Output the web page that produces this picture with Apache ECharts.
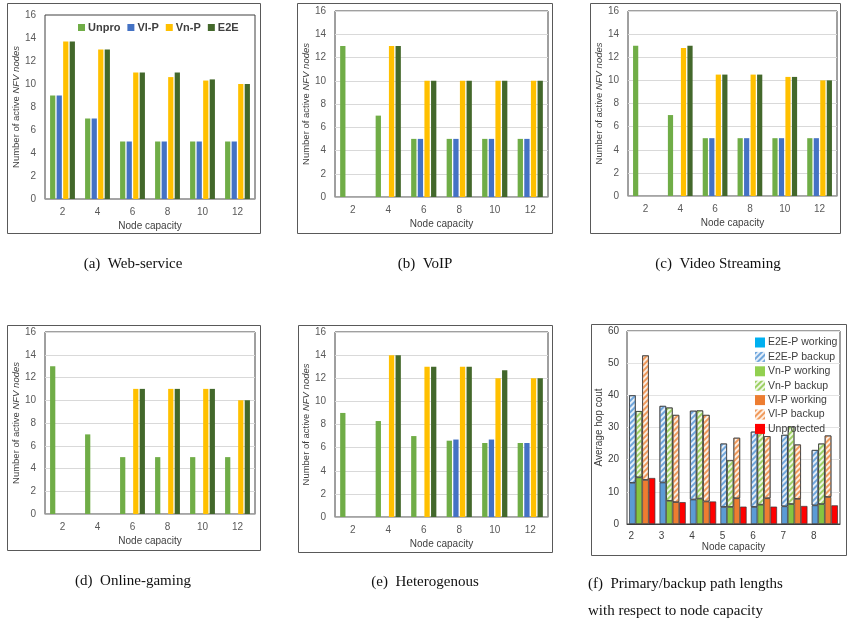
<!DOCTYPE html>
<html><head><meta charset="utf-8">
<script src="https://cdn.jsdelivr.net/npm/echarts/dist/echarts.min.js"></script>
<style>html,body{margin:0;padding:0;background:#fff}#c{width:850px;height:623px}</style>
</head><body><div id="c"></div><script>
// ---------- data ----------
const categories = ['2', '4', '6', '8', '10', '12'];
const seriesNames = ['Unpro', 'Vl-P', 'Vn-P', 'E2E'];

// (a) Web-service
const webUnpro = [9, 7, 5, 5, 5, 5];
const webVlP   = [9, 7, 5, 5, 5, 5];
const webVnP   = [13.7, 13, 11, 10.6, 10.3, 10];
const webE2E   = [13.7, 13, 11, 11, 10.4, 10];
// (b) VoIP
const voipUnpro = [13, 7, 5, 5, 5, 5];
const voipVlP   = [0, 0, 5, 5, 5, 5];
const voipVnP   = [0, 13, 10, 10, 10, 10];
const voipE2E   = [0, 13, 10, 10, 10, 10];
// (c) Video Streaming
const videoUnpro = [13, 7, 5, 5, 5, 5];
const videoVlP   = [0, 0, 5, 5, 5, 5];
const videoVnP   = [0, 12.8, 10.5, 10.5, 10.3, 10];
const videoE2E   = [0, 13, 10.5, 10.5, 10.3, 10];
// (d) Online-gaming
const gameUnpro = [13, 7, 5, 5, 5, 5];
const gameVlP   = [0, 0, 0, 0, 0, 0];
const gameVnP   = [0, 0, 11, 11, 11, 10];
const gameE2E   = [0, 0, 11, 11, 11, 10];
// (e) Heterogenous
const hetUnpro = [9, 8.3, 7, 6.6, 6.4, 6.4];
const hetVlP   = [0, 0, 0, 6.7, 6.7, 6.4];
const hetVnP   = [0, 14, 13, 13, 12, 12];
const hetE2E   = [0, 14, 13, 13, 12.7, 12];

// (f) Primary/backup path lengths
const capacities = ['2', '3', '4', '5', '6', '7', '8'];
const e2eWorking = [12.8, 12.9, 7.6, 5.3, 5.3, 5.5, 5.8];
const e2eBackup  = [27.2, 23.8, 27.6, 19.7, 23.4, 22.2, 17.2];
const vnWorking  = [14.5, 7.2, 7.9, 5.3, 6.0, 6.2, 6.2];
const vnBackup   = [20.6, 29.0, 27.4, 14.5, 23.1, 24.1, 18.8];
const vlWorking  = [13.7, 6.8, 7.0, 8.0, 8.0, 7.8, 8.4];
const vlBackup   = [38.7, 27.1, 26.9, 18.8, 19.3, 16.9, 19.1];
const unprotected = [14.3, 6.8, 7.0, 5.4, 5.4, 5.6, 5.8];

const captions = ['(a)  Web-service', '(b)  VoIP', '(c)  Video Streaming', '(d)  Online-gaming', '(e)  Heterogenous',
                  '(f)  Primary/backup path lengths\nwith respect to node capacity'];

// ---------- styling / layout ----------
const barColors = ['#70AD47', '#4472C4', '#FFC000', '#43682B'];
const FONT = 'Liberation Sans';
const tickColor = '#595959';

const panels = [
  {grid: {left: 45, top: 15, width: 210, height: 184}, data: [webUnpro, webVlP, webVnP, webE2E], split: false},
  {grid: {left: 335, top: 11, width: 213, height: 186}, data: [voipUnpro, voipVlP, voipVnP, voipE2E], split: true},
  {grid: {left: 628, top: 11, width: 209, height: 185}, data: [videoUnpro, videoVlP, videoVnP, videoE2E], split: true},
  {grid: {left: 45, top: 332, width: 210, height: 182}, data: [gameUnpro, gameVlP, gameVnP, gameE2E], split: true},
  {grid: {left: 335, top: 332, width: 213, height: 185}, data: [hetUnpro, hetVlP, hetVnP, hetE2E], split: true}
];

const grids = [], xAxes = [], yAxes = [], series = [];
panels.forEach((p, i) => {
  grids.push(Object.assign({show: true, borderColor: '#404040', borderWidth: 1, backgroundColor: 'transparent'}, p.grid));
  xAxes.push({
    type: 'category', gridIndex: i, data: categories,
    axisTick: {show: false},
    axisLine: {lineStyle: {color: '#a6a6a6', width: 1.5}},
    axisLabel: {color: tickColor, fontSize: 10, fontFamily: FONT, margin: 8},
    name: 'Node capacity', nameLocation: 'middle', nameGap: 22,
    nameTextStyle: {color: '#404040', fontSize: 10, fontFamily: FONT}
  });
  yAxes.push({
    type: 'value', gridIndex: i, min: 0, max: 16, interval: 2,
    axisLine: {show: false}, axisTick: {show: false},
    splitLine: {show: p.split, lineStyle: {color: '#d9d9d9'}},
    axisLabel: {color: tickColor, fontSize: 10, fontFamily: FONT, margin: 9},
    name: 'Number of active {i|NFV nodes}', nameLocation: 'middle', nameGap: 22,
    nameTextStyle: {color: '#404040', fontSize: 9.5, fontFamily: FONT,
      rich: {i: {fontStyle: 'italic', fontSize: 9.5, fontFamily: FONT, color: '#404040'}}}
  });
  p.data.forEach((d, k) => {
    series.push({
      type: 'bar', name: seriesNames[k], xAxisIndex: i, yAxisIndex: i, data: d,
      barGap: '25%', barCategoryGap: '29%',
      itemStyle: {color: barColors[k]}, emphasis: {disabled: true}
    });
  });
});

// panel (f)
grids.push({left: 627, top: 331, width: 213, height: 193, show: true, borderColor: '#404040', borderWidth: 1});
xAxes.push({
  type: 'category', gridIndex: 5, data: capacities,
  axisTick: {show: false},
  axisLine: {lineStyle: {color: '#404040'}},
  axisLabel: {color: '#404040', fontSize: 10, fontFamily: FONT, margin: 7, padding: [0, 22, 0, 0]},
  name: 'Node capacity', nameLocation: 'middle', nameGap: 16,
  nameTextStyle: {color: '#404040', fontSize: 10, fontFamily: FONT}
});
yAxes.push({
  type: 'value', gridIndex: 5, min: 0, max: 60, interval: 10,
  axisLine: {show: false}, axisTick: {show: false},
  splitLine: {show: true, lineStyle: {color: '#e3e3e3'}},
  axisLabel: {color: '#404040', fontSize: 10, fontFamily: FONT, margin: 8},
  name: 'Average hop cout', nameLocation: 'middle', nameGap: 22,
  nameTextStyle: {color: '#404040', fontSize: 10, fontFamily: FONT}
});
function hatch(c) {
  return {symbol: 'rect', symbolSize: 1, color: c, dashArrayX: [1, 0], dashArrayY: [1.5, 1.5], rotation: -Math.PI / 4};
}
const fSeries = [
  {name: 'E2E-P working', data: e2eWorking, stack: 'e2e', itemStyle: {color: '#5B9BD5'}},
  {name: 'E2E-P backup', data: e2eBackup, stack: 'e2e', itemStyle: {color: '#e4eef9', decal: hatch('#6fa6dc')}},
  {name: 'Vn-P working', data: vnWorking, stack: 'vn', itemStyle: {color: '#86C440'}},
  {name: 'Vn-P backup', data: vnBackup, stack: 'vn', itemStyle: {color: '#eef7e4', decal: hatch('#9dd064')}},
  {name: 'Vl-P working', data: vlWorking, stack: 'vl', itemStyle: {color: '#ED7D31'}},
  {name: 'Vl-P backup', data: vlBackup, stack: 'vl', itemStyle: {color: '#fdeee2', decal: hatch('#f09a5c')}},
  {name: 'Unprotected', data: unprotected, itemStyle: {color: '#FF0000'}}
];
fSeries.forEach(s => {
  s.type = 'bar'; s.xAxisIndex = 5; s.yAxisIndex = 5;
  s.barGap = '0%'; s.barCategoryGap = '14%';
  s.itemStyle.borderColor = '#3a3a3a'; s.itemStyle.borderWidth = 0.7;
  s.emphasis = {disabled: true};
  series.push(s);
});

const captionPos = [
  {left: 133, top: 251, textAlign: 'center'},
  {left: 425, top: 251, textAlign: 'center'},
  {left: 718, top: 251, textAlign: 'center'},
  {left: 133, top: 568, textAlign: 'center'},
  {left: 425, top: 569, textAlign: 'center'},
  {left: 588, top: 571, textAlign: 'left'}
];
const titles = captions.map((t, i) => Object.assign({
  text: t,
  textStyle: {fontFamily: 'Liberation Serif', fontSize: 15, fontWeight: 'normal', color: '#111', lineHeight: 27},
  padding: 0
}, captionPos[i]));

const frames = [
  [7, 3, 253, 230], [297, 3, 255, 230], [590, 3, 250, 230],
  [7, 325, 253, 225], [298, 325, 254, 227], [591, 324, 255, 231]
].map(f => ({
  type: 'rect', shape: {x: f[0] + 0.5, y: f[1] + 0.5, width: f[2], height: f[3]},
  style: {fill: 'none', stroke: '#595959', lineWidth: 1}, silent: true, z: -1
}));

const chart = echarts.init(document.getElementById('c'), null, {renderer: 'canvas'});
chart.setOption({
  animation: false,
  backgroundColor: '#fff',
  title: titles,
  graphic: frames,
  grid: grids, xAxis: xAxes, yAxis: yAxes,
  legend: [
    {
      data: seriesNames, left: 73, top: 17, itemWidth: 7, itemHeight: 7, itemGap: 7,
      icon: 'rect',
      textStyle: {fontFamily: FONT, fontSize: 11, fontWeight: 'bold', color: '#404040', padding: [0, 0, 0, -2]}
    },
    {
      data: [
        {name: 'E2E-P working', itemStyle: {color: '#00B0F0'}},
        {name: 'E2E-P backup'},
        {name: 'Vn-P working', itemStyle: {color: '#92D050'}},
        {name: 'Vn-P backup'},
        {name: 'Vl-P working', itemStyle: {color: '#ED7D31'}},
        {name: 'Vl-P backup'},
        {name: 'Unprotected', itemStyle: {color: '#FF0000'}}
      ],
      orient: 'vertical', left: 750, top: 332, itemWidth: 10, itemHeight: 10, itemGap: 3.4,
      icon: 'rect', itemStyle: {borderWidth: 0},
      textStyle: {fontFamily: FONT, fontSize: 10.5, color: '#404040', padding: [0, 0, 0, -2]}
    }
  ],
  series: series
});
</script></body></html>
